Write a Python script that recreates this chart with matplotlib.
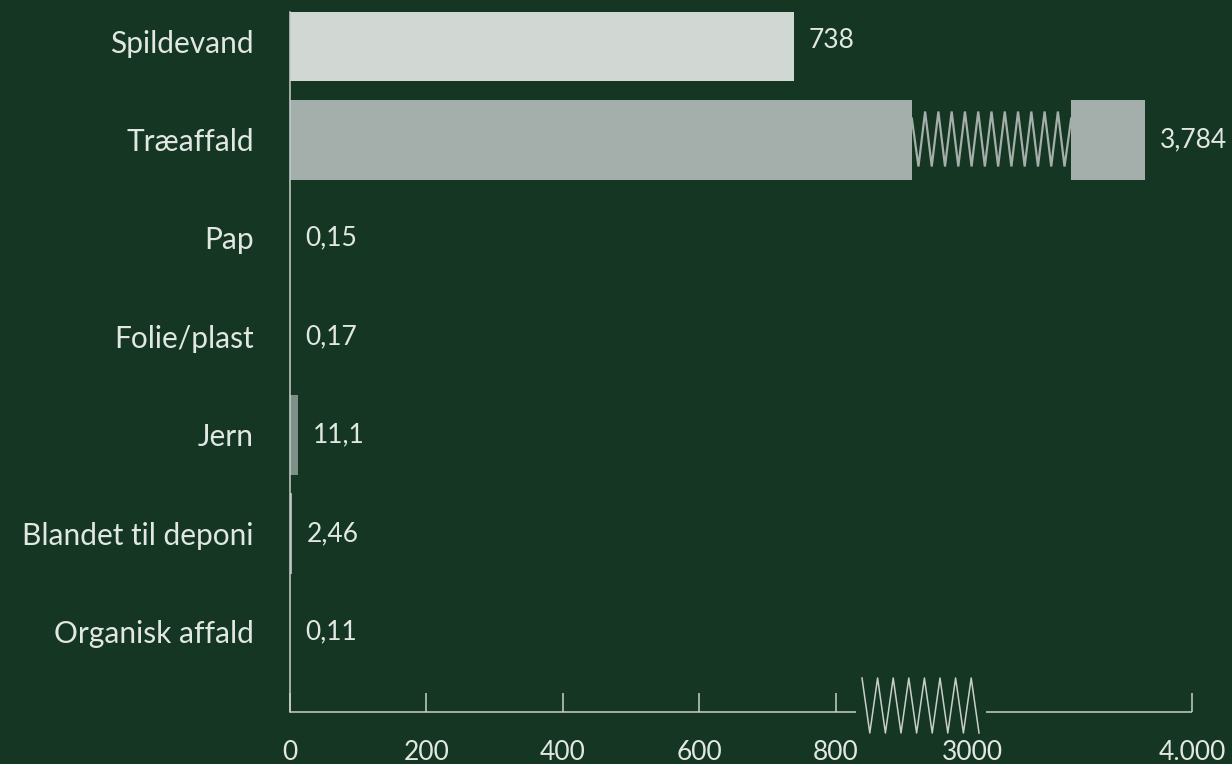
import numpy as np
import matplotlib
matplotlib.use("Agg")
import matplotlib.pyplot as plt
import matplotlib.transforms as mtransforms

# affaldsfraktioner og mængder
categories = ["Spildevand", "Træaffald", "Pap", "Folie/plast", "Jern",
              "Blandet til deponi", "Organisk affald"]
values = [738, 3784, 0.15, 0.17, 11.1, 2.46, 0.11]
value_labels = ["738", "3,784", "0,15", "0,17", "11,1", "2,46", "0,11"]
bar_colors = ["#d1d8d4", "#a4aeaa", "#a4aeaa", "#a4aeaa", "#7f9088",
              "#a4aeaa", "#a4aeaa"]

xticks = [0, 200, 400, 600, 800, 3000, 4000]
xtick_labels = ["0", "200", "400", "600", "800", "3000", "4.000"]

BG = "#153622"
FG = "#e1e7e3"
AXC = "#c8cfca"

# brudt x-akse: 800-3000 klemmes sammen
XB = [0.0, 800.0, 3000.0, 4000.0]
UB = [0.0, 800.0, 1000.0, 1322.0]
S_LAST = (UB[-1] - UB[-2]) / (XB[-1] - XB[-2])


def fwd(x):
    x = np.asarray(x, float)
    u = np.interp(x, XB, UB)
    u = np.where(x > XB[-1], UB[-1] + (x - XB[-1]) * S_LAST, u)
    return np.where(x < 0, x, u)


def inv(u):
    u = np.asarray(u, float)
    x = np.interp(u, UB, XB)
    x = np.where(u > UB[-1], XB[-1] + (u - UB[-1]) / S_LAST, x)
    return np.where(u < 0, u, x)


PX = 902 / UB[-1]  # pixels pr. u-enhed


def px_to_u(px):
    return (px - 290) / PX


plt.rcParams["font.family"] = ["Lato", "DejaVu Sans"]

fig = plt.figure(figsize=(12.32, 7.64), dpi=100, facecolor=BG)
ax = fig.add_axes([290 / 1232, 52 / 764, 902 / 1232, 700 / 764])
ax.set_facecolor(BG)
ax.set_xscale("function", functions=(fwd, inv))
ax.set_xlim(0, 4000)

rows = np.arange(len(categories))
row_px = 98.5
ax.set_ylim((712 - 41) / row_px, -(41 - 12) / row_px)

bar_h = 80 / row_px
ax.barh(rows, values, height=bar_h, color=bar_colors, linewidth=0)

# brud i træaffald-søjlen
brk_lo, brk_hi = 2025, 3450
ax.barh(1, brk_hi - brk_lo, left=brk_lo, height=bar_h + 0.02, color=BG,
        linewidth=0)
u0, u1 = fwd(brk_lo), fwd(brk_hi)
n_half = int(round((u1 - u0) * PX / 6.65))
zu = np.linspace(u0, u1, n_half + 1)
zy = np.where(np.arange(n_half + 1) % 2 == 1, 27, -28) / row_px + 1
zy[0] = zy[-1] = 1 - 21 / row_px
ax.plot(inv(zu), zy, color=bar_colors[1], lw=1.6, solid_joinstyle="miter")

# værdietiketter
for r, v, lab in zip(rows, values, value_labels):
    ax.annotate(lab, xy=(v, r), xytext=(11, 0), textcoords="offset points",
                va="center", ha="left", color=FG, fontsize=19,
                annotation_clip=False)

# akser
for s in ["top", "right", "bottom"]:
    ax.spines[s].set_visible(False)
ax.spines["left"].set_color(AXC)
ax.spines["left"].set_linewidth(1.1)

ax.set_yticks(rows, categories)
ax.tick_params(axis="y", length=0, pad=26, labelsize=21.5, labelcolor=FG)

ax.set_xticks(xticks, xtick_labels)
ax.minorticks_off()
ax.tick_params(axis="x", direction="in", length=13.7, width=1.1, color=AXC,
               pad=20, labelsize=19, labelcolor=FG)
for t, v in zip(ax.xaxis.get_major_ticks(), xticks):
    if v == 3000:
        t.tick1line.set_visible(False)

# brudt bundlinje med zigzag
trans = mtransforms.blended_transform_factory(ax.transData, ax.transAxes)
ax.plot([0, inv(px_to_u(856))], [0, 0], color=AXC, lw=1.1, transform=trans,
        clip_on=False, solid_capstyle="butt")
ax.plot([inv(px_to_u(986)), 4000], [0, 0], color=AXC, lw=1.1,
        transform=trans, clip_on=False, solid_capstyle="butt")
au = np.linspace(px_to_u(862), px_to_u(979), 16)
ay = np.where(np.arange(16) % 2 == 0, 34, -21) / 700
ax.plot(inv(au), ay, color=AXC, lw=1.1, transform=trans, clip_on=False)

fig.savefig("out.png", dpi=100, facecolor=BG)
